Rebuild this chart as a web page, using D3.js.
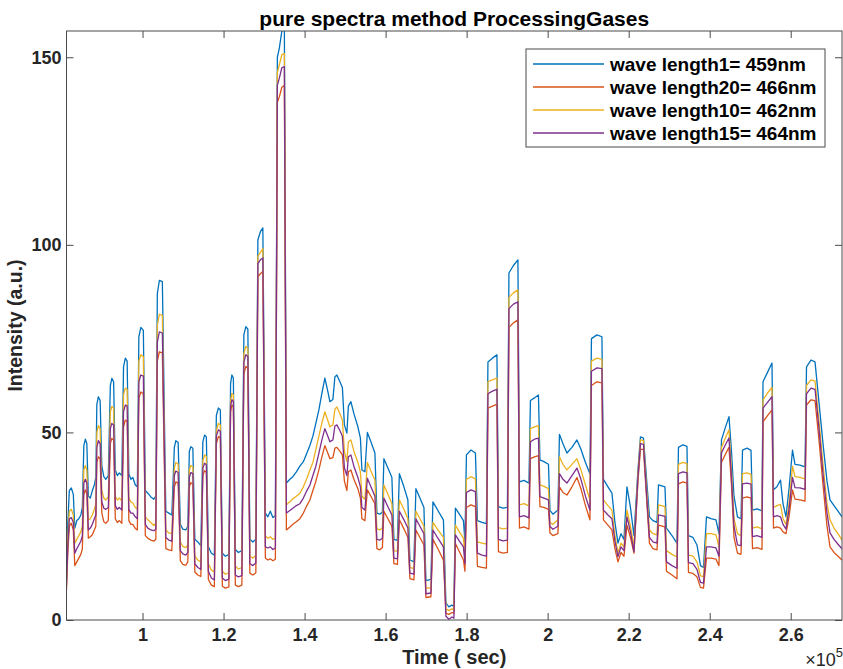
<!DOCTYPE html>
<html>
<head>
<meta charset="utf-8">
<script src="https://cdn.jsdelivr.net/npm/d3@7/dist/d3.min.js"></script>
<style>
    body { margin: 0; background: #fff; }
    text { font-family: "Liberation Sans", Arial, Helvetica, sans-serif; }
</style>
</head>
<body>
<div class="lineChart"></div>
<script>
// time in seconds
const times = [
    81230, 81560, 81930, 82420, 82910, 83280, 83780, 84270, 84770, 85140,
    85510, 85880, 86250, 86620, 87110, 87600, 88100, 88470, 88720, 89090,
    89530, 89950, 90440, 90940, 91550, 92050, 92420, 92860, 93280, 93780,
    94270, 94890, 95310, 95750, 96200, 96620, 97110, 97600, 98220, 98720,
    99090, 99580, 100200, 100690, 101310, 102050, 102790, 103280, 103650, 104150,
    104890, 105750, 106490, 107230, 107850, 108220, 108790, 109330, 109950, 110690,
    111180, 111550, 111920, 112420, 112910, 113650, 114390, 114890, 115310, 115750,
    116250, 116990, 117730, 118220, 118720, 119210, 119700, 120440, 121310, 121730,
    122050, 122420, 122910, 123650, 124520, 125010, 125500, 126000, 126490, 127230,
    127970, 128470, 129090, 129700, 130320, 130940, 131550, 132170, 132790, 133280,
    133780, 134390, 135010, 135510, 136370, 137110, 137970, 138840, 139700, 140570,
    141310, 142050, 142790, 143530, 144270, 145010, 145630, 146250, 146990, 147480,
    147970, 148710, 149330, 149830, 150440, 150810, 151430, 152170, 153160, 153780,
    154150, 154890, 155500, 156370, 157360, 157850, 158590, 159210, 159580, 160570,
    161550, 162050, 162910, 163400, 164520, 165500, 166000, 166990, 167480, 168470,
    169460, 169950, 171180, 171680, 172910, 174270, 174890, 175630, 176370, 176860,
    177230, 178220, 179210, 179580, 179950, 181060, 182170, 182670, 183780, 184890,
    185260, 186370, 187480, 187850, 188960, 190070, 190440, 191550, 192660, 193040,
    194150, 195380, 195750, 196740, 197730, 198100, 199080, 200200, 200570, 201310,
    202540, 202910, 203780, 204760, 206000, 207230, 208220, 209330, 210440, 210810,
    212170, 213400, 213780, 214890, 215870, 216610, 217360, 218100, 218840, 219580,
    220440, 221310, 222290, 222910, 223650, 224390, 225130, 226000, 226990, 227360,
    228960, 229330, 230690, 231920, 232290, 233400, 234390, 234760, 235870, 236860,
    237730, 238470, 239210, 240320, 241550, 242290, 242910, 243780, 244760, 245380,
    246000, 246860, 247730, 248100, 249210, 250200, 250570, 251680, 252910, 253160,
    254270, 255380, 255750, 256610, 257480, 258100, 258840, 259580, 260440, 261060,
    262290, 263530, 263900, 265010, 266000, 266980, 267970, 268960, 269700, 270690,
    271680, 272660
];

// wave length1 = 459nm
const wl1 = [
    14, 26, 34.5, 35.2, 33.5, 24.5, 26.5, 27, 28, 30,
    46.5, 48.2, 47, 33, 32.5, 34.5, 36, 38, 57.5, 59.5,
    58.5, 41, 38.2, 37.5, 38.5, 62.5, 64.4, 63.5, 40, 38.5,
    39.2, 38.5, 67.5, 69.8, 69, 39, 37.5, 38, 36, 35.5,
    75.5, 78, 77.2, 34.5, 33.8, 32.8, 32.2, 33, 87, 90.5,
    90.2, 29, 28.5, 28, 46, 47.8, 47.3, 25.5, 24.2, 24,
    25, 45, 46.2, 45.8, 21.5, 20.8, 19.8, 47.5, 49.3, 48.8,
    19.5, 17.8, 17.3, 54.5, 56.5, 56, 17.8, 17, 17.5, 63,
    65.3, 64.5, 18.8, 18, 18.5, 76, 78.2, 77.5, 21.5, 20.8,
    21.5, 101.3, 103.5, 104.5, 28.5, 27.5, 29, 27.3, 27.8, 150,
    152.5, 157, 157.5, 36.5, 37.5, 38.2, 39.5, 41, 42.2, 44.5,
    46.5, 49, 52.5, 56, 60.4, 64.5, 61.5, 58.2, 58.8, 64.8,
    65.3, 63.5, 62, 52, 49.8, 57, 58.2, 55, 51.5, 48.5,
    40, 39.5, 50, 47.5, 44.5, 28.5, 28.2, 28.8, 43, 40.5,
    38, 21.5, 21.2, 39, 35.5, 32, 16, 15.5, 35, 32.5,
    30, 10.5, 10.8, 31.5, 29.2, 26.7, 4.5, 3.5, 4, 3.5,
    29.8, 28.2, 26.5, 21, 44, 45.3, 44.5, 26.5, 26, 25.7,
    68.8, 69.8, 70.7, 30.2, 29.8, 30, 92.5, 94.5, 96, 36.8,
    37.2, 36.5, 58.5, 59.2, 60, 42.7, 42.2, 41.5, 29.2, 28.2,
    29.3, 49.5, 47, 44.5, 46, 48, 45.5, 42, 39, 75,
    76, 75.5, 37.5, 35.5, 33.8, 26, 20.5, 23, 21.5, 35.5,
    30, 22.5, 40, 48.8, 48.5, 38, 27.5, 26.5, 26, 36,
    35.5, 24.5, 22.5, 20.5, 46, 46.7, 46.3, 22.5, 22, 20,
    14.5, 14, 27.5, 27, 26.7, 23, 48, 51, 54.2, 45,
    33, 27.5, 27, 45.3, 45.8, 45.2, 29.3, 29.6, 29.1, 63.5,
    66, 68.5, 34.7, 35.5, 37.3, 31, 27.5, 35, 45.3, 41.5,
    41.3, 40.8, 67.5, 69.3, 68.8, 58, 47, 37, 32, 30.5,
    29, 27.5
];

// wave length20 = 466nm
const wl20 = [
    8, 18, 25, 25.8, 24, 14.5, 15.5, 16.5, 17.5, 19,
    33.5, 34.7, 33.5, 21.8, 22.2, 22.7, 24, 25, 42, 43.5,
    43, 28.5, 26.2, 25.8, 26.5, 47, 48.4, 48, 27, 26,
    26.5, 25.8, 51.5, 53.3, 53, 26.5, 25.5, 25.5, 24.4, 24,
    59, 60.8, 60.3, 22.5, 21.8, 21.3, 21, 21.5, 69, 71.5,
    71.2, 19, 18.7, 18.5, 35.5, 36.8, 36.5, 15.8, 14.8, 14.6,
    15.5, 35.5, 36.6, 36.2, 12.8, 12, 11.6, 38.5, 39.8, 39.4,
    10.8, 9.3, 8.9, 47, 48.9, 48.5, 9, 8.5, 8.8, 55.5,
    57.3, 56.8, 9.3, 8.9, 9.3, 65.5, 67.6, 67, 12.5, 12,
    12.6, 91.5, 92.3, 92.9, 16.5, 16, 16.3, 15.8, 16.2, 138,
    139.5, 142, 142.5, 24, 24.8, 25.5, 26.2, 27, 28.5, 30.5,
    32, 34.5, 37, 40, 43.5, 46.5, 44.8, 43, 43.3, 45.8,
    46, 45, 44, 37, 34.5, 39.5, 40, 37.5, 35, 32.5,
    27, 26.5, 34.7, 33, 31, 19, 18.7, 19.3, 29, 27,
    25, 15, 14.8, 26.7, 24.3, 22, 11, 10.7, 24, 22,
    20, 6, 6.2, 21.5, 19, 16, 1.8, 1.5, 2, 1.8,
    20.4, 18.2, 16, 13, 30, 30.7, 30.2, 14.3, 14, 13.8,
    56.5, 57, 57.5, 18.2, 17.8, 18, 78, 79.2, 80, 24.5,
    24.8, 24.2, 43, 43.5, 43.8, 30.2, 30, 29.5, 23.2, 22.5,
    23, 35.5, 34, 33.3, 35.5, 38, 35, 30.5, 26.7, 62.5,
    63.5, 63.2, 26.7, 25.3, 24, 19, 15.5, 18, 17, 25.3,
    22, 17.8, 37, 45.5, 45.5, 33, 20.5, 19, 18.7, 25.3,
    24.8, 13, 12, 11, 36.3, 36.8, 36.5, 12.7, 12.4, 11.5,
    8.7, 8.5, 16.5, 16.5, 16.2, 14.5, 42, 44, 46, 36,
    22, 17.8, 17.5, 32.5, 32.8, 32.5, 19, 19.3, 18.8, 52.8,
    54.5, 56, 24.5, 24.8, 24.5, 23.5, 23, 27.5, 34.7, 32.2,
    32, 31.7, 57.3, 58.7, 58.5, 48, 36, 25, 19.5, 18,
    17, 16
];

// wave length10 = 462nm
const wl10 = [
    11, 22, 29, 29.5, 28, 20.5, 21.5, 22.5, 23.5, 25,
    40, 41.2, 40, 26.7, 27, 28, 29.5, 31, 50, 51.8,
    51, 34.5, 32.5, 32, 32.8, 55.5, 56.9, 56.5, 33, 32,
    32.5, 31.8, 60, 61.8, 61.5, 32.5, 31.5, 31.2, 30, 29.5,
    69, 70.7, 70.2, 27.5, 26.7, 26, 25.2, 25.8, 78.5, 81.5,
    81.2, 24, 23.2, 23, 40.5, 42, 41.6, 20.8, 19.6, 19.3,
    20, 40, 41.2, 40.8, 17, 16, 15.5, 42.5, 44, 43.6,
    15, 13.3, 12.8, 50.5, 52.4, 52, 13, 12.2, 12.6, 58.5,
    60.4, 60, 14.3, 13.6, 14, 71, 72.9, 72.4, 17, 16.5,
    17.2, 97, 98, 99, 22.5, 21.8, 22.2, 21.5, 21.8, 146,
    148, 150.7, 151, 30.7, 31.5, 32.3, 33, 33.8, 35.5, 37.8,
    40, 42, 45.5, 49, 52.5, 55.5, 53.5, 51.5, 52, 56.2,
    56.8, 55, 53.3, 45, 42.2, 47.5, 48, 45, 42, 39.5,
    33, 32.2, 42, 39.7, 37.3, 24.3, 24, 24.6, 36, 33.5,
    31, 18.5, 18.3, 32, 29.5, 27, 14, 13.7, 29, 27,
    25, 8.5, 8.6, 26, 24, 22, 3, 2.5, 3, 2.6,
    25.3, 23.5, 21.8, 17, 37.5, 38.2, 37.6, 20.8, 20.5, 20.2,
    63.5, 64, 64.5, 24.6, 24.3, 24.5, 86, 87.2, 88, 30.7,
    31, 30.4, 51, 51.5, 51.8, 36, 35.6, 35, 26, 25.5,
    26.7, 43.5, 41.5, 40, 41.5, 43, 40, 36, 32, 69,
    69.8, 69.5, 32, 30.5, 29.3, 22.5, 17.8, 20.5, 19.5, 29.3,
    25, 19.5, 39, 48, 47.8, 35.5, 24, 23, 22.7, 30.7,
    30.2, 18.5, 17.5, 16.8, 41.5, 42, 41.7, 17.3, 17, 15.5,
    11.8, 11.5, 23, 23, 22.7, 19.5, 46, 48.3, 50.7, 40,
    27, 23, 22.5, 39, 39.2, 38.8, 24.5, 24.8, 24.3, 58.7,
    60.5, 62, 30, 30.5, 30.8, 27, 25.5, 31, 41, 38.2,
    38, 37.6, 62.5, 64, 63.7, 53, 41.5, 31, 26.7, 24.5,
    23, 21.3
];

// wave length15 = 464nm
const wl15 = [
    9.5, 20, 27, 27.3, 26, 17.8, 19, 20, 21, 22.5,
    36.5, 37.5, 36.5, 24, 24.5, 25.5, 27, 28, 46, 47.8,
    47, 31.5, 29.8, 29.5, 30, 51, 52.4, 52, 30.5, 29.5,
    30, 29.3, 55.5, 57.3, 57, 29.5, 28.5, 28.5, 27.5, 27,
    63.5, 65.3, 65, 25.5, 24.5, 24, 23.8, 24.2, 74, 76.8,
    76.5, 22, 21.3, 21, 38.5, 39.7, 39.3, 18.5, 17.6, 17.3,
    18, 38, 39.3, 39, 15, 14, 13.5, 40.5, 41.8, 41.4,
    13, 11.2, 10.7, 49, 50.7, 50.3, 11.2, 10.5, 10.9, 57,
    58.7, 58.3, 12, 11.5, 11.8, 68.8, 70.7, 70.2, 15, 14.5,
    15.2, 95, 96, 96.5, 19.5, 19.2, 19.5, 18.8, 19.2, 142.5,
    144.5, 147.2, 147.5, 28.5, 29.2, 29.8, 30.5, 31, 32.5, 34.5,
    36, 38.5, 41, 44.5, 48, 51, 49.3, 47.5, 48, 51.7,
    52, 50.5, 49, 40.5, 38.5, 43.5, 44, 41, 38, 35.5,
    30, 29.3, 37.8, 35.5, 33, 21.5, 21.3, 21.8, 32.5, 30.2,
    28, 16.5, 16.3, 29, 26.7, 24.5, 12.5, 12.2, 27, 25,
    23, 7, 7.2, 24, 21.8, 19.5, 1, 0.2, 0.8, 0.5,
    22.7, 21, 19.5, 15, 34, 34.7, 34.2, 17.8, 17.3, 17,
    60.3, 61, 61.5, 21.5, 21.1, 21.3, 83, 84.2, 84.8, 27.5,
    27.8, 27.2, 47.5, 48.2, 48.5, 32.9, 32.5, 32, 24.9, 24.2,
    25, 39, 37.5, 36.5, 38.5, 40.5, 37.5, 33, 29.3, 66.3,
    67.2, 67, 29.3, 28, 27, 21, 16.9, 19.5, 18.5, 27.5,
    23.5, 18.2, 38, 47, 46.8, 34, 22, 20.8, 20.5, 28,
    27.6, 15.5, 14.5, 13.8, 39, 39.5, 39.2, 15.3, 15, 13.5,
    10, 9.8, 19.5, 19.5, 19.2, 17, 44.5, 46.5, 48.5, 38,
    25, 20, 19.8, 36.3, 36.5, 36.2, 22.2, 22.5, 22, 56.5,
    58, 59.5, 27.5, 27.8, 27.5, 25.5, 24.2, 29.5, 38, 35.3,
    35.2, 34.8, 60.3, 61.8, 61.5, 51, 39, 28.5, 23.2, 21.5,
    20.2, 19
];

const seriesNames = ["wave length1= 459nm", "wave length20= 466nm", "wave length10= 462nm", "wave length15= 464nm"];
const xTicks = [100000, 120000, 140000, 160000, 180000, 200000, 220000, 240000, 260000];
const yTicks = [0, 50, 100, 150];

class LineChart{

    constructor(){
        this.width = 843;
        this.height = 669;
        this.margin = {top: 31, right: 1, bottom: 49, left: 66.5};
        this.colors = ["#0072bd", "#d95319", "#edb120", "#7e2f8e"];
        this.series = [wl1, wl20, wl10, wl15];
    }

    draw(){
        this.svg = d3.select(".lineChart")
            .append("svg")
            .attr("width", this.width)
            .attr("height", this.height);

        this.plotW = this.width - this.margin.left - this.margin.right;
        this.plotH = this.height - this.margin.top - this.margin.bottom;

        this.g = this.svg.append("g")
            .attr("transform", `translate(${this.margin.left}, ${this.margin.top})`);

        this.x = d3.scaleLinear().domain([81230, 272660]).range([0, this.plotW]);
        this.y = d3.scaleLinear().domain([0, 157]).range([this.plotH, 0]);

        this.createLines();
        this.createAxes();
        this.createLabels();
        this.createLegend();
    }

    createLines(){
        this.g.append("clipPath").attr("id", "plotClip")
            .append("rect").attr("width", this.plotW).attr("height", this.plotH);

        const line = d3.line()
            .x((d, i) => this.x(times[i]))
            .y(d => this.y(d));

        this.series.forEach((values, k) => {
            this.g.append("path")
                .datum(values)
                .attr("clip-path", "url(#plotClip)")
                .attr("fill", "none")
                .attr("stroke", this.colors[k])
                .attr("stroke-width", 1.3)
                .attr("stroke-linejoin", "round")
                .attr("d", line);
        });
    }

    createAxes(){
        const tickColor = "#262626";
        const tidy = g => {
            g.select(".domain").remove();
            g.selectAll(".tick line").attr("stroke", "#4a4a4a");
            g.selectAll(".tick text")
                .attr("fill", tickColor)
                .style("font-weight", "bold")
                .style("font-size", "18px");
        };

        this.g.append("g")
            .attr("transform", `translate(0, ${this.plotH})`)
            .call(d3.axisBottom(this.x).tickValues(xTicks).tickSize(-7).tickPadding(8)
                .tickFormat(d => d / 1e5))
            .call(tidy);

        this.g.append("g")
            .call(d3.axisTop(this.x).tickValues(xTicks).tickSize(-7).tickFormat(""))
            .call(tidy);

        this.g.append("g")
            .call(d3.axisLeft(this.y).tickValues(yTicks).tickSize(-7).tickPadding(5))
            .call(tidy);

        this.g.append("g")
            .attr("transform", `translate(${this.plotW}, 0)`)
            .call(d3.axisRight(this.y).tickValues(yTicks).tickSize(-7).tickFormat(""))
            .call(tidy);

        this.g.append("rect")
            .attr("width", this.plotW)
            .attr("height", this.plotH)
            .attr("fill", "none")
            .attr("stroke", "#4a4a4a")
            .attr("stroke-width", 1);
    }

    createLabels(){
        const cx = this.margin.left + this.plotW / 2;

        this.svg.append("text")
            .attr("x", cx).attr("y", 26)
            .attr("text-anchor", "middle")
            .style("font-weight", "bold").style("font-size", "21px")
            .attr("fill", "#000")
            .text("pure spectra method ProcessingGases");

        this.svg.append("text")
            .attr("x", cx).attr("y", 664)
            .attr("text-anchor", "middle")
            .style("font-weight", "bold").style("font-size", "20px")
            .attr("fill", "#262626")
            .text("Time ( sec)");

        this.svg.append("text")
            .attr("transform", `translate(22, ${this.margin.top + this.plotH / 2}) rotate(-90)`)
            .attr("text-anchor", "middle")
            .style("font-weight", "bold").style("font-size", "19.5px")
            .attr("fill", "#262626")
            .text("Intensity (a.u.)");

        // exponent label at the end of the x axis
        const expo = this.svg.append("text")
            .attr("x", 843).attr("y", 666)
            .attr("text-anchor", "end")
            .style("font-size", "18px")
            .attr("fill", "#262626");
        expo.append("tspan").text("\u00d710");
        expo.append("tspan").attr("dy", -9).style("font-size", "13px").text("5");
    }

    createLegend(){
        const lg = this.svg.append("g").attr("transform", "translate(526, 49)");

        lg.append("rect")
            .attr("width", 299).attr("height", 98)
            .attr("fill", "#fff")
            .attr("stroke", "#4a4a4a").attr("stroke-width", 1);

        seriesNames.forEach((name, i) => {
            const yy = 15 + i * 23;
            lg.append("line")
                .attr("x1", 7).attr("x2", 78)
                .attr("y1", yy).attr("y2", yy)
                .attr("stroke", this.colors[i]).attr("stroke-width", 1.3);
            lg.append("text")
                .attr("x", 84).attr("y", yy).attr("dy", "0.35em")
                .style("font-weight", "bold").style("font-size", "19px")
                .attr("fill", "#000")
                .text(name);
        });
    }
}

const chart = new LineChart();
chart.draw();
</script>
</body>
</html>
